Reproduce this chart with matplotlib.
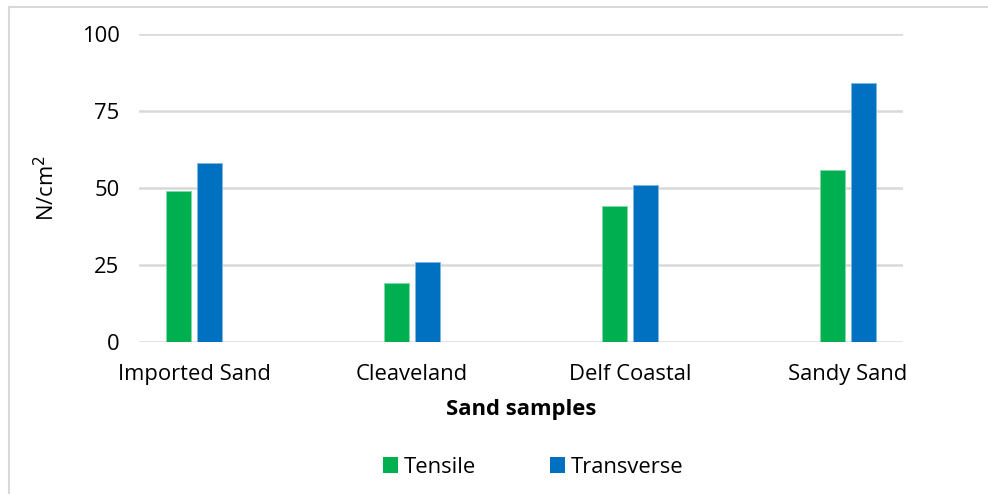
import matplotlib
matplotlib.use("Agg")
import matplotlib.pyplot as plt
from matplotlib.lines import Line2D
from matplotlib.patches import Patch
import numpy as np

plt.rcParams['font.family'] = ['Open Sans', 'DejaVu Sans']

categories = ["Imported Sand", "Cleaveland", "Delf Coastal", "Sandy Sand"]
tensile = [49, 19, 44, 56]
transverse = [58, 26, 51, 84]
y_ticks = [0, 25, 50, 75, 100]

green = "#00B050"
blue = "#0070C0"
grid_gray = "#D9D9D9"
fs = 15.8

W, H = 988, 494
fig = plt.figure(figsize=(W / 100, H / 100), dpi=100)
ax = fig.add_axes([139 / W, 1 - 342 / H, (903 - 139) / W, (342 - 34) / H])

x = np.arange(len(categories))
bw = 0.115
off = 0.071
ax.bar(x - off, tensile, width=bw, color=green, edgecolor="#7fd9a8", linewidth=0.6, zorder=3)
ax.bar(x + off, transverse, width=bw, color=blue, edgecolor="#7fb7e0", linewidth=0.6, zorder=3)

ax.set_xlim(-0.252, 3.252)
ax.set_ylim(0, 100)
ax.set_yticks(y_ticks)
ax.set_yticklabels([str(t) for t in y_ticks])
ax.set_xticks(x)
ax.set_xticklabels(categories)
ax.yaxis.grid(True, color=grid_gray, linewidth=1.8, zorder=0)
ax.set_axisbelow(True)
for s in ax.spines.values():
    s.set_visible(False)
ax.tick_params(axis="both", length=0, labelsize=fs, colors="black")
ax.tick_params(axis="y", pad=14)
ax.tick_params(axis="x", pad=16)

ax.set_ylabel("N/cm$^2$", fontsize=fs, labelpad=16)
ax.set_xlabel("Sand samples", fontsize=fs, fontweight="bold", labelpad=10)

handles = [Patch(facecolor=green, label="Tensile"), Patch(facecolor=blue, label="Transverse")]
fig.legend(handles=handles, loc="center", bbox_to_anchor=(533 / W, 1 - 467 / H),
           ncol=2, frameon=False, fontsize=fs, handlelength=0.7, handleheight=0.7,
           handletextpad=0.25, columnspacing=3.35)

# outer frame (top and left edges)
fig.add_artist(Line2D([8.5 / W, 1], [1 - 7.5 / H, 1 - 7.5 / H], color=grid_gray, linewidth=1.5,
                      transform=fig.transFigure))
fig.add_artist(Line2D([8.5 / W, 8.5 / W], [0, 1 - 7.5 / H], color=grid_gray, linewidth=1.5,
                      transform=fig.transFigure))

fig.savefig("out.png", dpi=100, facecolor="white")
